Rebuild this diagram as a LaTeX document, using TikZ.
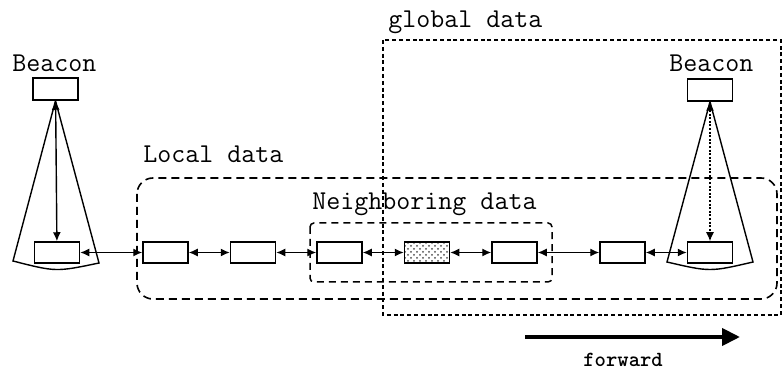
\documentclass[tikz,border=0pt]{standalone}
\usepackage{fontspec}
\usepackage{tikz}
\usetikzlibrary{arrows.meta,patterns}

\begin{document}
\begin{tikzpicture}[
        x=0.5pt, y=-0.5pt,
        car/.style={rectangle, draw=black, line width=0.75pt, fill=white, minimum width=22.5pt, minimum height=10.5pt, inner sep=0pt},
        beacon/.style={rectangle, draw=black, line width=0.75pt, fill=white, minimum width=22.5pt, minimum height=11pt, inner sep=0pt},
        lbl/.style={anchor=base west, inner sep=0pt, font=\ttfamily\fontsize{13.6}{15}\selectfont},
        link/.style={{Latex[length=4.5pt,width=4pt]}-{Latex[length=4.5pt,width=4pt]}, line width=0.7pt},
        radio/.style={link, dash pattern=on 1pt off 0.8pt},
        cone/.style={line width=0.7pt},
        localgrp/.style={dash pattern=on 4pt off 2.5pt, line width=0.8pt, rounded corners=8pt},
        neighgrp/.style={dash pattern=on 3.5pt off 2.5pt, line width=0.75pt, rounded corners=2pt},
        globalgrp/.style={dash pattern=on 2pt off 1.4pt, line width=0.75pt}
    ]
        \useasboundingbox (0,0) rectangle (784,369);

        % Group boxes
        \draw[localgrp] (137,178) rectangle (777,299);
        \draw[neighgrp] (310,223) rectangle (552,282);

        % Beacons
        \node[beacon] (b0) at (55.5,89) {};
        \node[beacon] (b1) at (710,90) {};
        \node[lbl] (b0lbl) at (12,72) {Beacon};
        \node[lbl] (b1lbl) at (669,72) {Beacon};

        % Cones
        \coordinate (lf0) at (13,261);
        \coordinate (rf0) at (99,263);
        \coordinate (lf1) at (667,262);
        \coordinate (rf1) at (753,262);
        \draw[cone] (b0.south) -- (lf0) .. controls (56,272) .. (rf0) -- (b0.south);
        \draw[cone] (b1.south) -- (lf1) .. controls (710,272) .. (rf1) -- (b1.south);

        % Vehicles
        \node[car] (c0) at (57,252.5) {};
        \node[car] (c1) at (165.5,252.5) {};
        \node[car] (c2) at (253,252.5) {};
        \node[car] (c3) at (339.5,252.5) {};
        \node[car, pattern=crosshatch dots, pattern color=black!70] (c4) at (427,252.5) {};
        \node[car] (c5) at (514.5,252.5) {};
        \node[car] (c6) at (622.5,252.5) {};
        \node[car] (c7) at (710,252.5) {};

        % Links
        \draw[link] (b0) -- (c0);
        \draw[radio] (b1) -- (c7);
        \draw[link] (c0) -- (c1);
        \draw[link] (c1) -- (c2);
        \draw[link] (c2) -- (c3);
        \draw[link] (c3) -- (c4);
        \draw[link] (c4) -- (c5);
        \draw[link] (c5) -- (c6);
        \draw[link] (c6) -- (c7);

        % Global area on top
        \draw[globalgrp] (383,40) rectangle (781,315);

        % Labels
        \node[lbl] (locallbl) at (143,163) {Local data};
        \node[lbl] (neighlbl) at (312,210) {Neighboring data};
        \node[lbl] (globallbl) at (388,28) {global data};

        % Direction
        \coordinate (fwdstart) at (525,337);
        \coordinate (fwdend) at (740,337);
        \draw[line width=2pt, -{Triangle[length=9pt,width=8.5pt]}] (fwdstart) -- (fwdend);
        \node[anchor=base west, inner sep=0pt, font=\ttfamily\bfseries\fontsize{10.8}{12}\selectfont] (fwdlbl) at (583,367) {forward};
    \end{tikzpicture}
\end{document}
